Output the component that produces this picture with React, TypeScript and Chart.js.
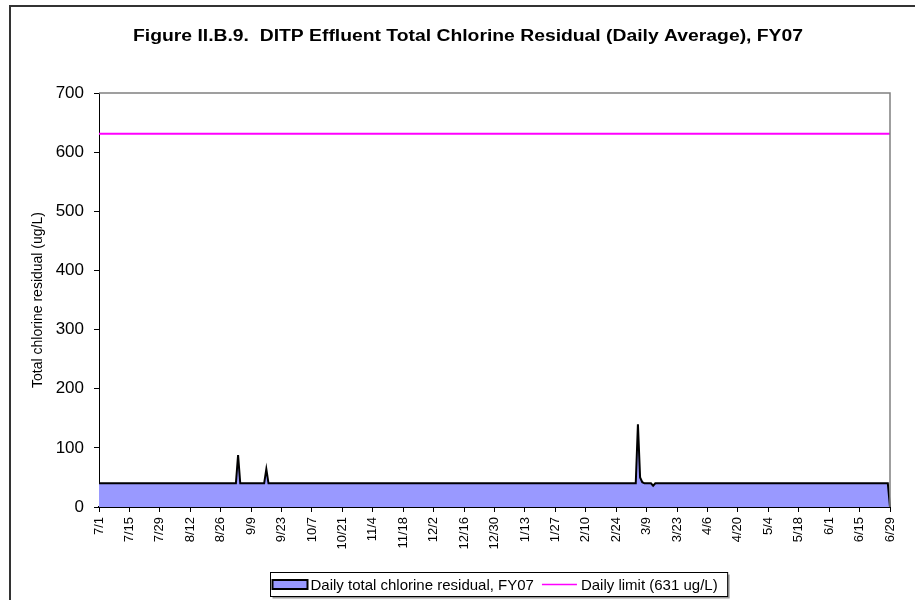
import React, { useEffect, useRef } from "react";
import { Chart, registerables } from "chart.js";

Chart.register(...registerables);

const TITLE = "Figure II.B.9.  DITP Effluent Total Chlorine Residual (Daily Average), FY07";
const Y_TITLE = "Total chlorine residual (ug/L)";
const SERIES_LABEL = "Daily total chlorine residual, FY07";
const LIMIT_LABEL = "Daily limit (631 ug/L)";
const LIMIT = 631;

// one label every 14 days (index 0, 14, 28, ...)
const TICK_LABELS = [
  "7/1", "7/15", "7/29", "8/12", "8/26", "9/9", "9/23", "10/7", "10/21", "11/4",
  "11/18", "12/2", "12/16", "12/30", "1/13", "1/27", "2/10", "2/24", "3/9", "3/23",
  "4/6", "4/20", "5/4", "5/18", "6/1", "6/15", "6/29",
];

// daily values, FY07 (365 days), 20 per row
const DAILY = [
  40, 40, 40, 40, 40, 40, 40, 40, 40, 40, 40, 40, 40, 40, 40, 40, 40, 40, 40, 40,
  40, 40, 40, 40, 40, 40, 40, 40, 40, 40, 40, 40, 40, 40, 40, 40, 40, 40, 40, 40,
  40, 40, 40, 40, 40, 40, 40, 40, 40, 40, 40, 40, 40, 40, 40, 40, 40, 40, 40, 40,
  40, 40, 40, 40, 88, 40, 40, 40, 40, 40, 40, 40, 40, 40, 40, 40, 40, 64, 40, 40,
  40, 40, 40, 40, 40, 40, 40, 40, 40, 40, 40, 40, 40, 40, 40, 40, 40, 40, 40, 40,
  40, 40, 40, 40, 40, 40, 40, 40, 40, 40, 40, 40, 40, 40, 40, 40, 40, 40, 40, 40,
  40, 40, 40, 40, 40, 40, 40, 40, 40, 40, 40, 40, 40, 40, 40, 40, 40, 40, 40, 40,
  40, 40, 40, 40, 40, 40, 40, 40, 40, 40, 40, 40, 40, 40, 40, 40, 40, 40, 40, 40,
  40, 40, 40, 40, 40, 40, 40, 40, 40, 40, 40, 40, 40, 40, 40, 40, 40, 40, 40, 40,
  40, 40, 40, 40, 40, 40, 40, 40, 40, 40, 40, 40, 40, 40, 40, 40, 40, 40, 40, 40,
  40, 40, 40, 40, 40, 40, 40, 40, 40, 40, 40, 40, 40, 40, 40, 40, 40, 40, 40, 40,
  40, 40, 40, 40, 40, 40, 40, 40, 40, 40, 40, 40, 40, 40, 40, 40, 40, 40, 40, 40,
  40, 40, 40, 40, 40, 40, 40, 40, 140, 50, 42, 40, 40, 40, 40, 36, 40, 40, 40, 40,
  40, 40, 40, 40, 40, 40, 40, 40, 40, 40, 40, 40, 40, 40, 40, 40, 40, 40, 40, 40,
  40, 40, 40, 40, 40, 40, 40, 40, 40, 40, 40, 40, 40, 40, 40, 40, 40, 40, 40, 40,
  40, 40, 40, 40, 40, 40, 40, 40, 40, 40, 40, 40, 40, 40, 40, 40, 40, 40, 40, 40,
  40, 40, 40, 40, 40, 40, 40, 40, 40, 40, 40, 40, 40, 40, 40, 40, 40, 40, 40, 40,
  40, 40, 40, 40, 40, 40, 40, 40, 40, 40, 40, 40, 40, 40, 40, 40, 40, 40, 40, 40,
  40, 40, 40, 40, 0,
];

// category per day (unique day keys)
const CATEGORIES = DAILY.map((_, i) => "day" + i);

const FONT = '"Liberation Sans", Arial, sans-serif';

const decorPlugin = {
  id: "decor",
  afterDraw(chart: any) {
    const ctx = chart.ctx;
    const ca = chart.chartArea;
    ctx.save();
    // outer chart border
    ctx.strokeStyle = "#333333";
    ctx.lineWidth = 2;
    ctx.beginPath();
    ctx.moveTo(10, chart.height + 5);
    ctx.lineTo(10, 6);
    ctx.lineTo(chart.width + 5, 6);
    ctx.stroke();

    // plot area top/right border
    ctx.strokeStyle = "#808080";
    ctx.lineWidth = 1.5;
    ctx.beginPath();
    ctx.moveTo(ca.left, ca.top);
    ctx.lineTo(ca.right, ca.top);
    ctx.lineTo(ca.right, ca.bottom);
    ctx.stroke();

    // title (slightly widened, as in the source)
    ctx.fillStyle = "#000";
    ctx.font = "bold 16px " + FONT;
    ctx.textAlign = "center";
    ctx.textBaseline = "middle";
    const tw = ctx.measureText(TITLE).width;
    const sx = 670 / tw;
    ctx.save();
    ctx.translate(chart.width / 2 + 10.5, 37);
    ctx.scale(sx, 1);
    ctx.fillText(TITLE, 0, 0);
    ctx.restore();

    // legend
    ctx.font = "15px " + FONT;
    const w1 = ctx.measureText(SERIES_LABEL).width;
    const w2 = ctx.measureText(LIMIT_LABEL).width;
    const total = 2 + 35 + 3 + w1 + 8 + 35 + 4 + w2 + 10;
    const cx = (ca.left + ca.right) / 2 + 4;
    const L = Math.round(cx - total / 2) + 0.5;
    const T = 572.5;
    const H = 24;
    const cy = T + H / 2;
    ctx.fillStyle = "#9a9a9a";
    ctx.fillRect(L + 2, T + 2, total, H);
    ctx.fillStyle = "#fff";
    ctx.fillRect(L, T, total, H);
    ctx.strokeStyle = "#000";
    ctx.lineWidth = 1;
    ctx.strokeRect(L, T, total, H);
    let x = L + 2;
    ctx.fillStyle = "#9999FF";
    ctx.fillRect(x, cy - 4.5, 35, 9);
    ctx.lineWidth = 2;
    ctx.strokeRect(x, cy - 4.5, 35, 9);
    x += 38;
    ctx.fillStyle = "#000";
    ctx.textAlign = "left";
    ctx.fillText(SERIES_LABEL, x, cy + 1);
    x += w1 + 8;
    ctx.strokeStyle = "#FF00FF";
    ctx.lineWidth = 1.5;
    ctx.beginPath();
    ctx.moveTo(x, cy);
    ctx.lineTo(x + 35, cy);
    ctx.stroke();
    x += 39;
    ctx.fillText(LIMIT_LABEL, x, cy + 1);
    ctx.restore();
  },
};

export default function App() {
  const ref = useRef<HTMLCanvasElement>(null);
  useEffect(() => {
    const canvas = ref.current;
    if (!canvas) return;
    const chart = new Chart(canvas, {
      type: "line",
      data: {
        labels: CATEGORIES,
        datasets: [
          {
            label: SERIES_LABEL,
            data: DAILY,
            borderColor: "#000000",
            borderWidth: 2,
            backgroundColor: "#9999FF",
            fill: "origin",
            pointRadius: 0,
            tension: 0,
            order: 2,
          },
          {
            label: LIMIT_LABEL,
            data: [
              { x: CATEGORIES[0], y: LIMIT },
              { x: CATEGORIES[CATEGORIES.length - 1], y: LIMIT },
            ],
            borderColor: "#FF00FF",
            borderWidth: 2,
            pointRadius: 0,
            fill: false,
            order: 1,
          },
        ],
      },
      plugins: [decorPlugin],
      options: {
        responsive: false,
        animation: false,
        devicePixelRatio: 1,
        layout: { padding: { top: 93, left: 10, right: 25, bottom: 43 } },
        plugins: {
          legend: { display: false },
          title: { display: false },
          tooltip: { enabled: false },
        },
        scales: {
          x: {
            type: "category",
            offset: false,
            afterFit(scale: any) {
              scale.height = 50;
            },
            grid: {
              drawOnChartArea: false,
              drawTicks: true,
              tickLength: 5,
              tickColor: "#000",
              tickWidth: 1,
            },
            border: { color: "#000", width: 2 },
            ticks: {
              autoSkip: false,
              minRotation: 90,
              maxRotation: 90,
              padding: 5,
              color: "#000",
              font: { family: FONT, size: 13 },
              callback: (_v: any, i: number) =>
                i % 14 === 0 ? TICK_LABELS[i / 14] : null,
            },
          },
          y: {
            min: 0,
            max: 700,
            afterFit(scale: any) {
              scale.width = 89;
            },
            grid: {
              drawOnChartArea: false,
              tickLength: 5,
              tickColor: "#000",
            },
            border: { color: "#000", width: 1 },
            ticks: {
              stepSize: 100,
              padding: 10,
              color: "#000",
              font: { family: FONT, size: 17 },
            },
            title: {
              display: true,
              text: Y_TITLE,
              color: "#000",
              font: { family: FONT, size: 14 },
              padding: { top: 20, bottom: 0 },
            },
          },
        },
      },
    });
    return () => chart.destroy();
  }, []);
  return (
    <div style={{ position: "fixed", left: 0, top: 0, width: 915, height: 600, background: "#fff" }}>
      <canvas ref={ref} width={915} height={600} style={{ display: "block", width: 915, height: 600 }} />
    </div>
  );
}
